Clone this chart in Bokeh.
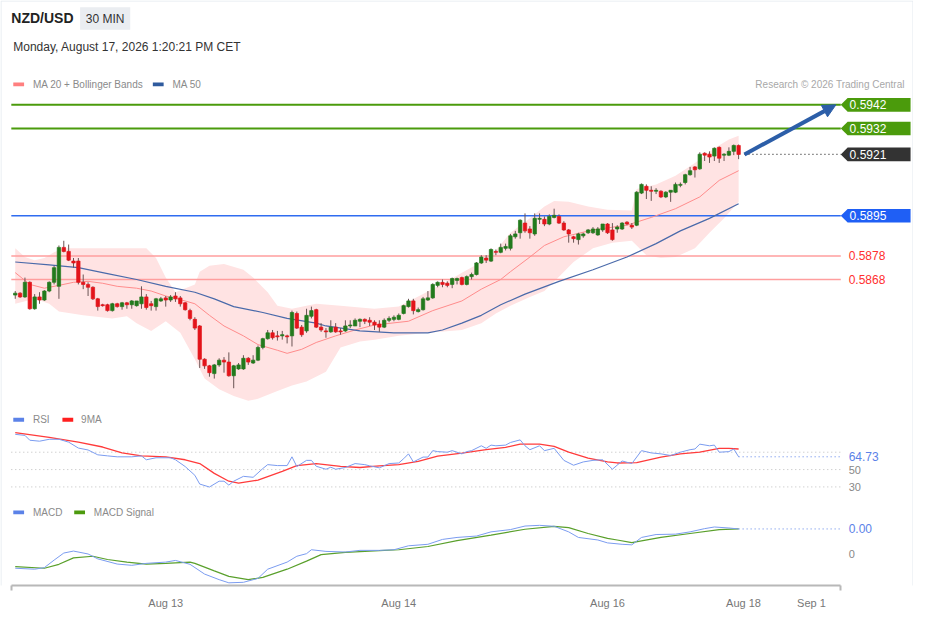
from bokeh.plotting import figure
from bokeh.models import (Range1d, LinearAxis, FixedTicker, Arrow, NormalHead,
                          ColumnDataSource, BoxAnnotation)
from bokeh.core.properties import value
from bokeh.embed import file_html
from bokeh.resources import INLINE

FONT = "Liberation Sans"

# ------------------------------------------------------------------ data
instrument = "NZD/USD"
timeframe = "30 MIN"
timestamp = "Monday, August 17, 2026 1:20:21 PM CET"
credit = "Research \u00a9 2026 Trading Central"

opens = [
    .58614, .58622, .58606, .58668, .58556, .58606, .58593, .58631, .58668, .58651,
    .58816, .58799, .58758, .58758, .58668, .58659, .58647, .58598, .58573, .58573,
    .58548, .58577, .58565, .58581, .58573, .58569, .58577, .58606, .58577, .58565,
    .58589, .58602, .58593, .5861, .58602, .58581, .58548, .58511, .58483, .58342,
    .58314, .58281, .58318, .58338, .5833, .58272, .58301, .58301, .58346, .58326,
    .58338, .58392, .58429, .58454, .58441, .58441, .58441, .58441, .58536, .58478,
    .58462, .58524, .58552, .58478, .58462, .58458, .58478, .58462, .58462, .58483,
    .58483, .58503, .58511, .58507, .58499, .58491, .58478, .58507, .58511, .58511,
    .58536, .58565, .58589, .58544, .58552, .58593, .58602, .58655, .58668, .58664,
    .58659, .58676, .58688, .58659, .58692, .58701, .5875, .58771, .58758, .58799,
    .58795, .58812, .58812, .58861, .58878, .58919, .58894, .58873, .58935, .58935,
    .58915, .58943, .58947, .58919, .5889, .58861, .58849, .58865, .58878, .58878,
    .58869, .5889, .58915, .5889, .58894, .58894, .58923, .5891, .5891, .59046,
    .59075, .59058, .59054, .59054, .5903, .5905, .5905, .59079, .59091, .59124,
    .59157, .59149, .59215, .59211, .59203, .5924, .59207, .59207, .59223, .59248,
]
highs = [
    .58631, .58626, .58688, .58672, .58618, .58626, .58635, .58672, .58738, .58824,
    .58844, .58828, .58771, .58771, .58701, .58668, .58651, .58602, .58577, .58577,
    .58581, .58581, .58585, .58585, .58593, .58589, .58651, .58618, .58589, .58602,
    .58606, .5861, .58614, .58626, .5861, .58585, .58556, .5852, .58487, .58346,
    .58318, .58322, .58346, .58351, .58371, .58318, .58326, .58359, .58351, .58359,
    .584, .58433, .58466, .58466, .58462, .58462, .58446, .58548, .58544, .58487,
    .58556, .58565, .58556, .58495, .58474, .58507, .58495, .58474, .58507, .58507,
    .58515, .58515, .58515, .5852, .58507, .58507, .58515, .58524, .58528, .58536,
    .58573, .58598, .58598, .58561, .58606, .58631, .58664, .58672, .5868, .58672,
    .58688, .58688, .58692, .58697, .58709, .58754, .58783, .58783, .58812, .58807,
    .58832, .58832, .58873, .58886, .58935, .5896, .58906, .5896, .5896, .58947,
    .58956, .5898, .58956, .58927, .58894, .58865, .58878, .58878, .58894, .58902,
    .58902, .58915, .58919, .58919, .5891, .58923, .58927, .58919, .59054, .59087,
    .59083, .59075, .59067, .59058, .59054, .59058, .59091, .59091, .59128, .59157,
    .59161, .59219, .59219, .59223, .5924, .59244, .59215, .5924, .59252, .59252,
]
lows = [
    .58598, .58602, .58602, .58552, .58552, .58577, .58589, .58626, .58659, .58598,
    .58795, .58758, .5873, .58659, .58639, .5861, .58593, .58548, .58565, .58544,
    .58544, .58561, .58552, .58556, .58556, .58565, .58556, .58552, .58548, .58548,
    .58585, .58565, .58585, .58585, .58565, .58548, .58507, .58466, .58305, .58301,
    .58268, .5826, .5831, .58285, .58268, .58219, .58297, .58297, .58318, .58322,
    .58334, .58384, .58425, .58425, .58421, .58425, .58409, .58396, .5847, .58437,
    .58454, .58515, .58474, .58458, .58433, .58454, .58454, .58446, .58458, .58474,
    .58483, .58478, .58491, .58483, .58466, .58458, .58474, .58499, .58503, .58507,
    .58532, .58561, .58532, .5854, .58548, .58589, .58598, .58647, .58647, .58647,
    .58643, .58659, .58655, .58655, .5868, .58697, .58746, .5875, .58754, .58783,
    .58791, .58803, .58803, .58853, .58853, .58878, .58853, .58865, .58915, .58906,
    .5891, .58939, .58915, .58886, .58836, .58836, .58828, .58857, .58873, .58873,
    .58865, .58882, .58873, .58844, .58878, .5889, .5891, .58894, .58906, .59042,
    .59021, .59013, .59042, .59025, .59025, .59009, .59046, .59071, .59083, .5912,
    .59112, .59145, .59182, .59174, .59182, .59174, .59182, .59203, .59207, .5919,
]
closes = [
    .58622, .58606, .58668, .58556, .58606, .58593, .58631, .58668, .5873, .58816,
    .58799, .58762, .5875, .58668, .58659, .58647, .58598, .58565, .58569, .58548,
    .58577, .58565, .58581, .58573, .58589, .58589, .58606, .58561, .58569, .58598,
    .58598, .58593, .58606, .58598, .58577, .58552, .58515, .58474, .58342, .58314,
    .58285, .58318, .58338, .5833, .58272, .58314, .58318, .58346, .5833, .58338,
    .58392, .58429, .58454, .58433, .58437, .58446, .58437, .5854, .58474, .58446,
    .58528, .58548, .58478, .58466, .58458, .58478, .58458, .58458, .58483, .58487,
    .58507, .58511, .58503, .58499, .58487, .58478, .58507, .58515, .5852, .58528,
    .58569, .58589, .58548, .58552, .58598, .58602, .58659, .58668, .58659, .58655,
    .58684, .58684, .58659, .58692, .58701, .5875, .58775, .58762, .58807, .58795,
    .58816, .5882, .58865, .58873, .58931, .58886, .58878, .58939, .58939, .58915,
    .58947, .58952, .58919, .5889, .58873, .58853, .58873, .58873, .5889, .58894,
    .58894, .58915, .58878, .58849, .58902, .58919, .58915, .58902, .5905, .59083,
    .59058, .59054, .59058, .5903, .5905, .59058, .59083, .59083, .59124, .59141,
    .59145, .59211, .59207, .59199, .59236, .59194, .59211, .59223, .59248, .5921,
]

# Bollinger bands (read at bar positions)
ub_idx = [0, 2, 4, 6, 8, 10, 27, 29, 31, 33, 37, 38, 40, 43, 47, 49, 52, 54, 57, 62, 67, 71,
          74, 79, 84, 89, 92, 95, 99, 102, 106, 109, 111, 114, 118, 122, 127, 128, 132, 136,
          140, 144, 147, 149]
upper_band = [.58812, .58775, .58762, .58771, .58795, .58812, .58812, .58771, .58688, .58626,
              .58659, .58713, .58738, .58746, .58721, .58688, .58626, .58569, .58556, .58577,
              .58569, .58561, .58556, .58565, .58618, .58672, .58709, .58742, .58803, .58878,
              .58939, .58989, .59013, .59009, .58989, .58976, .58972, .59063, .59083, .5912,
              .59174, .59236, .59273, .59289]
lb_idx = [0, 4, 7, 9, 14, 20, 23, 25, 28, 31, 34, 37, 39, 42, 45, 48, 50, 54, 57, 60, 64, 67,
          71, 74, 79, 85, 92, 96, 99, 102, 106, 109, 112, 115, 119, 123, 127, 128, 130, 133,
          136, 140, 143, 146, 149]
lower_band = [.58577, .58598, .58577, .58544, .58528, .58515, .58524, .58495, .58462, .58503,
              .58454, .58342, .5826, .58215, .58186, .58166, .58174, .58207, .58231, .58248,
              .58289, .58392, .58417, .58425, .58441, .58454, .58466, .58495, .58536, .58569,
              .58606, .58631, .58692, .58754, .58812, .58836, .58844, .58824, .58783, .58771,
              .58775, .58812, .58878, .58939, .59009]

ma20_idx = [0, 3, 6, 9, 12, 15, 18, 21, 25, 28, 31, 35, 37, 40, 43, 47, 50, 54, 56, 59, 62,
            66, 70, 74, 81, 86, 92, 96, 100, 102, 106, 109, 113, 119, 126, 131, 136, 141, 145, 149]
ma20 = [.58709, .58659, .58643, .58655, .58668, .58672, .58664, .58651, .58643, .58631,
        .5861, .58589, .58577, .58528, .58483, .58441, .58404, .5838, .58367, .58384,
        .58413, .58441, .58466, .58487, .58503, .58548, .58589, .58639, .5868, .58713,
        .58775, .58824, .58861, .5889, .5891, .58943, .5898, .5903, .591, .59141]

ma50_idx = [0, 7, 13, 19, 25, 31, 37, 41, 45, 51, 56, 62, 64, 71, 78, 85, 88, 92, 96, 100,
            105, 112, 119, 126, 132, 137, 143, 149]
ma50 = [.58754, .58742, .5873, .58705, .5868, .58651, .58626, .58598, .58565, .5854,
        .58515, .58495, .58483, .58462, .58454, .58454, .58466, .58495, .58528, .58573,
        .58618, .58672, .58721, .58775, .58832, .58886, .58939, .59001]

# RSI and its 9-period MA
rsi_idx = [0, 2, 3, 5, 7, 9, 11, 13, 15, 17, 19, 21, 24, 26, 27, 29, 32, 33, 35, 37,
           38, 40, 42, 43, 44, 45, 47, 49, 51, 52, 54, 56, 57, 58, 60, 61, 62, 64, 65, 66,
           68, 70, 72, 73, 75, 77, 79, 80, 81, 82, 84, 85, 86, 87, 89, 90, 92, 93, 94, 96,
           97, 98, 99, 101, 102, 104, 105, 106, 108, 109, 111, 113, 115, 117, 119, 121, 123, 125, 127, 129,
           131, 133, 135, 137, 139, 140, 141, 143, 144, 145, 147, 148, 149]
rsi = [90.6, 89.4, 83.8, 82.7, 84.9, 84.9, 81.6, 74.8, 72.6, 67.0,
       65.8, 64.7, 64.7, 65.8, 61.3, 63.6, 63.6, 61.3, 53.5, 43.4,
       33.3, 29.9, 36.6, 36.6, 32.1, 36.6, 42.2, 41.1, 51.2, 55.7,
       54.6, 54.6, 64.7, 53.5, 60.6, 60.6, 53.8, 50.4, 52.7, 50.4,
       52.4, 56.9, 55.7, 54.3, 52.0, 56.9, 57.6, 62.5, 68.1, 58.8,
       64.4, 64.4, 71.8, 70.7, 70.0, 71.8, 68.1, 70.7, 71.8, 77.4,
       74.5, 78.2, 77.4, 78.2, 81.2, 84.2, 77.4, 72.9, 77.4, 71.8,
       74.5, 60.6, 55.0, 58.8, 60.6, 61.3, 50.4, 59.9, 56.9, 71.8,
       69.2, 68.1, 66.2, 70.0, 72.9, 73.7, 79.3, 77.4, 78.2, 70.0,
       70.7, 73.7, 64.73]
rsi_ma_idx = [0, 7, 13, 18, 22, 26, 31, 35, 38, 41, 44, 46, 50, 55, 58, 62, 67, 71, 75, 79,
              83, 87, 92, 97, 101, 104, 108, 111, 114, 118, 122, 124, 128, 133, 137, 141, 145, 147, 149]
rsi_ma = [92.5, 87.2, 81.6, 76.0, 69.2, 65.8, 64.7, 61.3, 56.9, 45.6,
          36.6, 34.4, 37.8, 47.9, 54.6, 56.9, 53.8, 52.4, 54.3, 55.7,
          59.4, 65.5, 68.9, 72.9, 75.6, 79.3, 79.3, 76.7, 70.0, 63.3,
          58.8, 57.6, 58.0, 64.4, 68.1, 70.0, 74.5, 74.5, 73.7]
rsi_levels = [70, 50, 30]
rsi_tick_labels = ["50", "30"]

# MACD and signal (in pips, 1e-4)
macd_idx = [0, 4, 6, 8, 10, 12, 15, 17, 21, 24, 27, 31, 33, 36, 39, 42, 44, 47, 50, 52,
            56, 58, 60, 61, 64, 68, 71, 75, 78, 81, 85, 88, 91, 95, 98, 102, 105, 108, 111, 114,
            116, 120, 122, 125, 127, 129, 132, 136, 139, 142, 144, 147, 149]
macd = [-2.2, -2.35, -2.1, -0.92, 0.2, 0.51, 0.05, -0.72, -1.54, -1.74,
        -1.43, -1.23, -0.97, -1.58, -3.12, -4.0, -4.5, -4.42, -3.8, -2.35,
        -1.23, -0.31, 0.1, 0.72, 0.46, 0.36, 0.62, 0.62, 0.72, 1.34,
        1.58, 2.35, 2.66, 2.88, 3.54, 3.9, 4.46, 4.57, 4.42, 3.54,
        2.66, 2.26, 1.8, 1.58, 1.49, 2.66, 3.12, 3.18, 3.54, 4.05,
        4.31, 4.15, 4.0]
signal_idx = [0, 6, 9, 12, 16, 19, 23, 27, 31, 36, 37, 41, 44, 48, 51, 56, 60, 63, 68, 75,
              79, 85, 91, 98, 105, 111, 114, 118, 122, 124, 127, 133, 139, 145, 149]
signal = [-1.95, -2.2, -1.58, -0.57, -0.31, -0.82, -1.23, -1.54, -1.43, -1.23,
          -1.43, -2.62, -3.49, -4.0, -3.65, -2.35, -1.08, -0.05, 0.31, 0.57,
          0.72, 1.23, 2.15, 3.03, 3.95, 4.42, 4.2, 3.28, 2.5, 2.26,
          1.85, 2.66, 3.28, 3.9, 4.0]

# key levels
resistance_levels = [0.5942, 0.5932]
last_price = 0.5921
pivot_level = 0.5895
support_levels = [0.5878, 0.5868]

# time axis
tick_pos = [31, 79, 122, 150, 164]
tick_labels = ["Aug 13", "Aug 14", "Aug 16", "Aug 18", "Sep 1"]

# ------------------------------------------------------------------ layout
W, H = 913, 613
REF_W, REF_H = 929, 600          # reference canvas coordinates covered by the frame
BAR_PX, X0_PX = 4.94, 15.0        # reference px per bar, px of bar 0


def bx(px):
    return (px - X0_PX) / BAR_PX


PRICE_PX, PRICE_MID, PRICE_MID_Y = 24200.0, 0.5906, 194.17
price_top = PRICE_MID + PRICE_MID_Y / PRICE_PX
price_bot = PRICE_MID - (REF_H - PRICE_MID_Y) / PRICE_PX
RSI_PX, RSI70_Y = 0.89, 463.3
rsi_top = 70 + RSI70_Y / RSI_PX
rsi_bot = 70 - (REF_H - RSI70_Y) / RSI_PX
MACD_PX, MACD0_Y = 6.5, 568.0
macd_top = MACD0_Y / MACD_PX
macd_bot = -(REF_H - MACD0_Y) / MACD_PX

p = figure(width=W, height=H, output_backend="svg", toolbar_location=None,
           x_axis_type=None, y_axis_type=None,
           x_range=Range1d(bx(0), bx(REF_W)), y_range=Range1d(price_bot, price_top),
           min_border_left=0, min_border_right=0, min_border_top=0, min_border_bottom=28,
           background_fill_color="white", border_fill_color="white")
p.outline_line_color = None
p.extra_x_ranges = {"px": Range1d(0, REF_W)}
p.extra_y_ranges = {"py": Range1d(REF_H, 0),
                    "rsi": Range1d(rsi_bot, rsi_top),
                    "macd": Range1d(macd_bot, macd_top)}

XL, XR = bx(11), bx(855)


def label(x, y, s, size="11px", color="#333333", align="left", bold=False, xr="px", yr="py"):
    p.text(x=[x], y=[y], text=[s], text_font=value(FONT), text_font_size=size,
           text_color=color, text_align=align, text_baseline="middle",
           text_font_style="bold" if bold else "normal",
           x_range_name=xr, y_range_name=yr)


def swatch(x0, y, color):
    p.quad(left=[x0], right=[x0 + 11], top=[y - 2], bottom=[y + 2], fill_color=color,
           line_color=None, x_range_name="px", y_range_name="py")


# widget border
p.add_layout(BoxAnnotation(left=0.5, right=W - 0.5, top=0.5, bottom=H - 0.5,
                           left_units="canvas", right_units="canvas",
                           top_units="canvas", bottom_units="canvas",
                           fill_color=None, line_color="#e3e9ef", line_alpha=1.0,
                           line_width=1))

# header
label(11, 18, instrument, size="14px", color="#222222", bold=True)
p.quad(left=[81], right=[132], top=[7], bottom=[30], fill_color="#eaedf1", line_color=None,
       x_range_name="px", y_range_name="py")
label(106.5, 18.5, timeframe, size="12px", color="#333333", align="center")
label(13, 48, timestamp, size="12px", color="#333333")

# legends
swatch(13, 86, "#ff7f7f")
label(33, 86, "MA 20 + Bollinger Bands", size="10px", color="#8a8a8a")
swatch(155, 86, "#2f5b9e")
label(175, 86, "MA 50", size="10px", color="#8a8a8a")
label(920, 86, credit, size="10px", color="#a8a8a8", align="right")

swatch(13, 430, "#5b82e8")
label(33, 430, "RSI", size="10px", color="#8a8a8a")
swatch(63, 430, "#ff1f1f")
label(82, 430, "9MA", size="10px", color="#8a8a8a")

swatch(13, 525, "#5b82e8")
label(33, 525, "MACD", size="10px", color="#8a8a8a")
swatch(75, 525, "#4c9a0e")
label(95, 525, "MACD Signal", size="10px", color="#8a8a8a")

# Bollinger band area
p.patch(x=ub_idx + lb_idx[::-1], y=upper_band + lower_band[::-1],
        fill_color="#ffe3e3", line_color=None)

# key level lines
p.segment(x0=[XL] * 2, x1=[XR] * 2, y0=support_levels, y1=support_levels,
          line_color="#ff9e9e", line_width=1.5)
p.segment(x0=[XL] * 2, x1=[XR] * 2, y0=resistance_levels, y1=resistance_levels,
          line_color="#4b9b0c", line_width=2)
p.segment(x0=[XL], x1=[XR], y0=[pivot_level], y1=[pivot_level],
          line_color="#2f6cf0", line_width=1.5)
p.segment(x0=[bx(757)], x1=[XR], y0=[last_price], y1=[last_price],
          line_color="#333333", line_width=1.2, line_dash="1 3")

# moving averages
p.line(ma20_idx, ma20, line_color="#ff8c8c", line_width=1)
p.line(ma50_idx, ma50, line_color="#4a6aaa", line_width=1.2)

# candles
n = len(opens)
src = ColumnDataSource(dict(
    x=list(range(n)), high=highs, low=lows,
    top=[max(o, c) for o, c in zip(opens, closes)],
    bot=[min(o, c) for o, c in zip(opens, closes)],
    color=["#237a1d" if c >= o else "#e3141a" for o, c in zip(opens, closes)],
))
p.segment(x0="x", x1="x", y0="low", y1="high", source=src, line_color="#6a5454", line_width=1)
p.vbar(x="x", top="top", bottom="bot", width=0.7, fill_color="color", line_color="color",
       line_width=0.7, source=src)

# target arrow
arrow_c = "#2c5ea8"
p.add_layout(Arrow(end=NormalHead(size=13, fill_color=arrow_c, line_color=arrow_c),
                   x_start=bx(757), y_start=last_price, x_end=bx(850), y_end=resistance_levels[0],
                   line_color=arrow_c, line_width=4))

# level tags
half = 7 / PRICE_PX
tag_levels = resistance_levels + [last_price, pivot_level]
tag_fill = ["#4b9b0c", "#4b9b0c", "#333333", "#1f5ff5"]
p.patches(xs=[[855, 862, 926, 926, 862] for _ in tag_levels],
          ys=[[lv, lv + half, lv + half, lv - half, lv - half] for lv in tag_levels],
          fill_color=tag_fill, line_color=None, x_range_name="px")
p.text(x=[864] * len(tag_levels), y=tag_levels, text=[f"{lv:.4f}" for lv in tag_levels],
       text_font=value(FONT), text_font_size="12px", text_color="white",
       text_baseline="middle", x_range_name="px")
p.text(x=[863] * len(support_levels), y=support_levels,
       text=[f"{lv:.4f}" for lv in support_levels],
       text_font=value(FONT), text_font_size="12px", text_color="#ff2f2f",
       text_baseline="middle", x_range_name="px")

# RSI panel
p.segment(x0=[XL] * 3, x1=[XR] * 3, y0=rsi_levels, y1=rsi_levels, line_color="#bdbdbd",
          line_width=1, line_dash="1 3", y_range_name="rsi")
p.line(rsi_ma_idx, rsi_ma, line_color="#ff3b3b", line_width=1.3, y_range_name="rsi")
p.line(rsi_idx, rsi, line_color="#7b9cf0", line_width=1, y_range_name="rsi")
p.segment(x0=[rsi_idx[-1]], x1=[XR], y0=[rsi[-1]], y1=[rsi[-1]], line_color="#5b82e8",
          line_width=1, line_dash="1 3", y_range_name="rsi")
p.text(x=[863, 863], y=rsi_levels[1:], text=rsi_tick_labels, text_font=value(FONT),
       text_font_size="11px", text_color="#888888", text_baseline="middle",
       x_range_name="px", y_range_name="rsi")
label(863, rsi[-1], f"{rsi[-1]:.2f}", size="12px", color="#5b82e8", yr="rsi")

# MACD panel
p.line(signal_idx, signal, line_color="#5aa02c", line_width=1.2, y_range_name="macd")
p.line(macd_idx, macd, line_color="#7b9cf0", line_width=1, y_range_name="macd")
p.segment(x0=[macd_idx[-1]], x1=[XR], y0=[macd[-1]], y1=[macd[-1]], line_color="#5b82e8",
          line_width=1, line_dash="1 3", y_range_name="macd")
label(863, macd[-1], f"{macd[-1] * 1e-4:.2f}", size="12px", color="#5b82e8", yr="macd")
label(863, 0, "0", size="11px", color="#888888", yr="macd")

# time axis
ax = LinearAxis(ticker=FixedTicker(ticks=tick_pos, minor_ticks=[XL + 0.05, XR - 0.05]),
                bounds=(XL, XR))
ax.major_label_overrides = {t: s for t, s in zip(tick_pos, tick_labels)}
ax.axis_line_color = "#b8b8b8"
ax.axis_line_width = 2
ax.major_tick_line_color = None
ax.major_tick_out = 0
ax.major_tick_in = 0
ax.minor_tick_line_color = "#b8b8b8"
ax.minor_tick_line_width = 2
ax.minor_tick_out = 5
ax.minor_tick_in = 0
ax.major_label_text_font = FONT
ax.major_label_text_font_size = "11px"
ax.major_label_text_color = "#777777"
ax.major_label_standoff = 6
p.add_layout(ax, "below")

open("out.html", "w").write(file_html(p, INLINE))
